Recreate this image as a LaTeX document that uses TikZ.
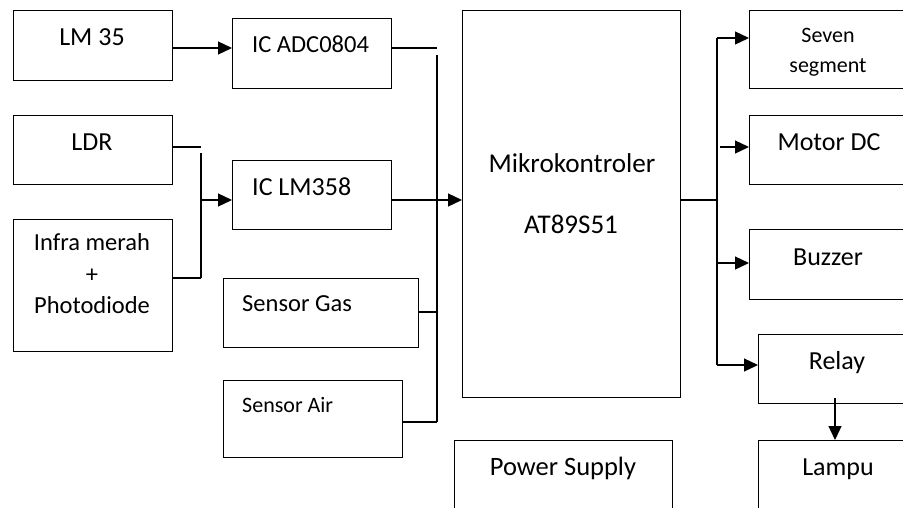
\documentclass[tikz,border=0pt]{standalone}
\usepackage{fontspec}
\setmainfont{Carlito}
\usetikzlibrary{arrows.meta}
\begin{document}
\begin{tikzpicture}[x=1pt,y=-1pt,
  box/.style={draw, line width=1.3pt, inner sep=0pt, anchor=north west},
  lbl/.style={inner sep=0pt, anchor=base, font=\fontsize{26}{31}\selectfont},
  lbls/.style={inner sep=0pt, anchor=base west, font=\fontsize{#1}{#1}\selectfont},
  wire/.style={line width=1.3pt},
  arr/.style={line width=1.3pt, -{Triangle[length=14pt,width=13pt]}}]
\useasboundingbox (0,0) rectangle (903,507);
\clip (0,0) rectangle (903,507);
% boxes
\node[box, minimum width=159pt, minimum height=70pt] (lm35) at (13,10) {};
\node[box, minimum width=159pt, minimum height=70pt] (adc) at (232,18) {};
\node[box, minimum width=159pt, minimum height=69pt] (ldr) at (13,115) {};
\node[box, minimum width=159pt, minimum height=69pt] (lm358) at (232,160) {};
\node[box, minimum width=159pt, minimum height=132pt] (infra) at (13,219) {};
\node[box, minimum width=195pt, minimum height=69pt] (gas) at (223,278) {};
\node[box, minimum width=179pt, minimum height=77pt] (air) at (223,380) {};
\node[box, minimum width=218pt, minimum height=387pt] (mcu) at (462,10) {};
\node[box, minimum width=218pt, minimum height=100pt] (ps) at (454,440) {};
\node[box, minimum width=200pt, minimum height=78pt] (seven) at (749,10) {};
\node[box, minimum width=200pt, minimum height=69pt] (motor) at (749,115) {};
\node[box, minimum width=200pt, minimum height=70pt] (buzzer) at (749,229) {};
\node[box, minimum width=200pt, minimum height=69pt] (relay) at (758,334) {};
\node[box, minimum width=200pt, minimum height=100pt] (lampu) at (758,440) {};
% labels
\node[lbl] (t1) at (92,45) {LM 35};
\node[lbls=24.5] (t2) at (252,52) {IC ADC0804};
\node[lbl] (t3) at (92,150) {LDR};
\node[lbls=26] (t4) at (252,195) {IC LM358};
\node[lbl, font=\fontsize{24.5}{29}\selectfont] (t5) at (92,250) {Infra merah};
\node[lbl, font=\fontsize{24.5}{29}\selectfont] (t6) at (92,282) {+};
\node[lbl, font=\fontsize{24.5}{29}\selectfont] (t7) at (92,313) {Photodiode};
\node[lbls=24.5] (t8) at (242,311) {Sensor Gas};
\node[lbls=22] (t9) at (242,412) {Sensor Air};
\node[lbl, font=\fontsize{27.2}{32}\selectfont] (t10) at (572,172) {Mikrokontroler};
\node[lbl, font=\fontsize{27}{32}\selectfont] (t11) at (571,233) {AT89S51};
\node[lbl, font=\fontsize{26.5}{31}\selectfont] (t12) at (563,475) {Power Supply};
\node[lbl, font=\fontsize{22}{26}\selectfont] (t13) at (828,42) {Seven};
\node[lbl, font=\fontsize{22}{26}\selectfont] (t14) at (828,72) {segment};
\node[lbl] (t15) at (829,150) {Motor DC};
\node[lbl] (t16) at (828,265) {Buzzer};
\node[lbl] (t17) at (837,369) {Relay};
\node[lbl] (t18) at (838,475) {Lampu};
% bus points
\coordinate (busA) at (437,48);
\coordinate (busAtop) at (437,55);
\coordinate (busAbot) at (437,422);
\coordinate (busB) at (201,147);
\coordinate (busBtop) at (201,153);
\coordinate (busBbot) at (201,278);
\coordinate (busBmid) at (201,200);
\coordinate (busC) at (717,200);
\coordinate (busCtop) at (717,38);
\coordinate (busCbot) at (717,365);
\coordinate (relayout) at (835,398);
% connectors
\draw[arr] (lm35.east |- busA) -- (adc.west |- busA);
\draw[wire] (adc.east |- busA) -- (busA);
\draw[wire] (busAtop) -- (busAbot);
\draw[wire] (gas.east |- 0,312) -- (437,312);
\draw[wire] (air.east |- busAbot) -- (busAbot);
\draw[wire] (ldr.east |- busB) -- (busB);
\draw[wire] (busBtop) -- (busBbot);
\draw[wire] (infra.east |- busBbot) -- (busBbot);
\draw[arr] (busBmid) -- (lm358.west |- busBmid);
\draw[arr] (lm358.east |- busC) -- (mcu.west |- busC);
\draw[wire] (mcu.east |- busC) -- (busC);
\draw[wire] (busCtop) -- (busCbot);
\draw[arr] (busCtop) -- (seven.west |- busCtop);
\draw[arr] (720,147) -- (motor.west |- 0,147);
\draw[arr] (717,263) -- (buzzer.west |- 0,263);
\draw[arr] (busCbot) -- (relay.west |- busCbot);
\draw[arr] (relayout) -- (lampu.north -| relayout);
\end{tikzpicture}
\end{document}
